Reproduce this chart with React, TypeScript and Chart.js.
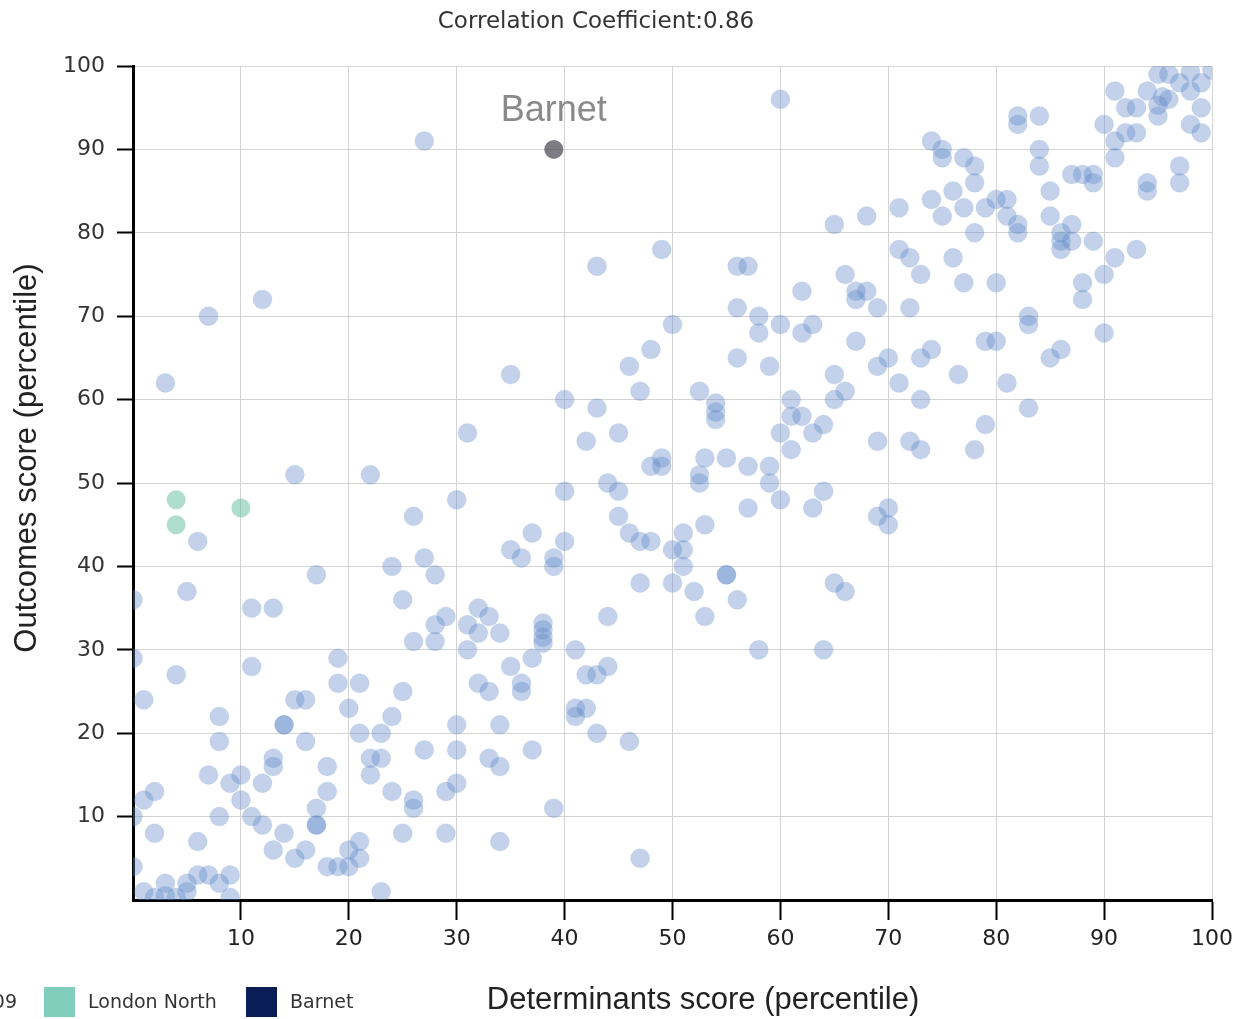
import React, { useEffect, useRef } from "react";
import { Chart, registerables } from "chart.js";

Chart.register(...registerables);

// Determinants score (x) and Outcomes score (y) for all areas
const determinantsScores = [
  91, 94, 95, 96, 97, 98, 99, 100, 98, 95.4, 95, 95, 96, 99, 92, 93, 90, 92, 93, 91, 98, 99, 91,
  82, 82, 84, 84, 84, 75, 74, 75, 77, 78, 78, 76, 77, 79, 80, 81, 81, 82, 82, 78, 85, 85,
  87, 88, 89, 89, 87, 86, 86, 86, 87, 89, 93, 91, 90, 88, 88, 94, 94, 97, 97, 90,
  76, 77, 80, 83, 83, 79, 80, 86, 85, 76.5, 81, 83, 79, 78,
  65, 68, 71, 74, 75, 71, 72, 73, 72, 56, 57, 66, 62, 67, 68, 67, 69, 56, 58, 58, 60, 62, 63,
  67, 56, 59, 69, 70, 73, 74, 71, 65, 66, 65, 73, 52.5, 54, 54, 54, 61, 61, 62, 60, 63, 64, 61,
  69, 72, 73, 53, 55, 57, 59, 59, 52.5, 52.5, 60, 64, 63, 57, 53, 69, 70, 70,
  40, 43, 31, 42, 45, 48, 49, 49, 44, 45, 40, 30, 26, 45, 46, 47, 48, 51, 50, 51, 51, 27, 28, 24,
  35, 36, 37, 40, 39, 39, 47, 50, 52, 53, 55, 55, 56, 25, 44, 32, 33, 31, 32, 34, 29, 28, 28, 26,
  38, 38, 38, 38, 31, 41, 37, 35, 42, 43, 44, 32, 33, 36, 36, 25, 65, 66, 58, 64,
  27, 60, 43, 49, 50, 35, 46, 48, 47, 7, 12, 3, 15, 22, 6,
  0, 5, 17, 11, 13, 0, 4, 11, 19, 19, 21, 1, 15, 16, 20, 24, 14, 14, 21, 23, 30, 34, 41, 41, 42,
  43, 46, 8, 8, 16, 27, 30, 33, 34, 37, 22, 23, 22, 13, 13, 18, 18, 17, 17, 17, 24, 26, 26, 29,
  30, 39, 14, 16, 15, 25, 29, 34, 47, 20, 21, 21, 18, 19, 20, 23, 7, 10, 9, 12, 10, 1, 2, 0, 8,
  11, 12, 2, 6, 13, 0, 1, 3, 3, 5, 5, 6, 7, 8, 9, 9, 2, 4,
];
const outcomesScores = [
  97, 97, 99, 99, 98, 99.3, 98, 99.5, 97, 96.3, 95.3, 94, 96, 95, 95, 95, 93, 92, 92, 91, 93, 92, 89,
  94, 93, 94, 90, 88, 90, 91, 89, 89, 88, 86, 85, 83, 83, 84, 84, 82, 81, 80, 80, 85, 82,
  87, 87, 87, 86, 81, 80, 79, 78, 79, 79, 78, 77, 75, 74, 72, 86, 85, 88, 86, 68,
  77, 74, 74, 70, 69, 67, 67, 66, 65, 63, 62, 59, 57, 54,
  81, 82, 83, 84, 82, 78, 77, 75, 71, 76, 76, 75, 73, 73, 73, 72, 71, 71, 70, 68, 69, 68, 69,
  67, 65, 64, 64, 65, 65, 66, 62, 63, 61, 60, 60, 61, 59.6, 58.5, 57.6, 60, 58, 58, 56, 56, 57, 54,
  55, 55, 54, 53, 53, 52, 52, 50, 51, 50, 48, 49, 47, 47, 45, 46, 47, 45,
  60, 59, 56, 55, 56, 52, 53, 52, 50, 49, 49, 48, 46, 46, 44, 43, 43, 44, 42, 42, 40, 41, 39, 40,
  42, 41, 44, 43, 41, 40, 38, 38, 37, 34, 39, 39, 36, 36, 34, 35, 34, 33, 32, 32, 34, 33, 31, 31,
  33.2, 32.4, 31.5, 30.8, 30, 30, 29, 28, 27, 27, 28, 26, 25, 26, 25, 25, 38, 37, 30, 30,
  91, 96, 76, 78, 69, 63, 64, 66, 61, 70, 72, 62, 51, 51, 43,
  36, 37, 39, 35, 35, 29, 27, 28, 29, 26, 26, 24, 24, 24, 23, 22, 21, 21, 20, 20, 21, 21, 22, 23, 23,
  20, 19, 22, 19, 19, 18, 18, 17, 16, 18, 17, 17, 15, 17, 16, 16, 13, 11, 9, 9, 13, 12, 11, 13,
  14, 11, 8, 6, 5, 8, 8, 7, 5, 6, 7, 5, 4, 4, 4, 1, 15, 15, 14, 14, 12, 12, 13, 10, 10,
  10, 9, 8, 7, 6, 4, 1, 2, 0.5, 2, 1, 3, 3, 2, 3, 0.3, 0.3, 0.3,
];

// London North region
const londonNorthX = [4, 4, 10];
const londonNorthY = [48, 45, 47];

// Barnet
const barnetX = [39];
const barnetY = [90];

const xTicks = [10, 20, 30, 40, 50, 60, 70, 80, 90, 100];
const yTicks = [10, 20, 30, 40, 50, 60, 70, 80, 90, 100];

const titleText = "Correlation Coefficient:0.86";
const xTitle = "Determinants score (percentile)";
const yTitle = "Outcomes score (percentile)";
const highlightLabel = "Barnet";
const legendItems = [
  { label: "2008-09", color: "" },
  { label: "London North", color: "#80cdbb" },
  { label: "Barnet", color: "#0b1d57" },
];

function toPoints(xs: number[], ys: number[]) {
  return xs.map((x, i) => ({ x, y: ys[i] }));
}

export default function App() {
  const canvasRef = useRef<HTMLCanvasElement | null>(null);

  useEffect(() => {
    document.body.style.margin = "0";
    const canvas = canvasRef.current;
    if (!canvas) return;

    const textPlugin = {
      id: "textPlugin",
      afterDraw(chart: any) {
        const ctx = chart.ctx as CanvasRenderingContext2D;
        const xs = chart.scales.x;
        const ys = chart.scales.y;
        ctx.save();
        // title
        ctx.fillStyle = "#333";
        ctx.font = '23px "DejaVu Sans"';
        ctx.textAlign = "center";
        ctx.textBaseline = "middle";
        ctx.fillText(titleText, 596, 22);

        // Barnet label above the point
        ctx.fillStyle = "#8a8a8a";
        ctx.font = '36px "Liberation Sans"';
        ctx.textAlign = "center";
        ctx.textBaseline = "middle";
        ctx.fillText(highlightLabel, xs.getPixelForValue(barnetX[0]), ys.getPixelForValue(barnetY[0]) - 38);

        // axis titles
        ctx.fillStyle = "#222";
        ctx.font = '31px "Liberation Sans"';
        ctx.fillText(xTitle, 703, 1000);
        ctx.save();
        ctx.translate(27, 458);
        ctx.rotate(-Math.PI / 2);
        ctx.fillText(yTitle, 0, 0);
        ctx.restore();

        // legend
        ctx.font = '19px "DejaVu Sans"';
        ctx.fillStyle = "#333";
        ctx.textBaseline = "middle";
        ctx.textAlign = "right";
        ctx.fillText(legendItems[0].label, 17, 1003);
        ctx.textAlign = "left";
        const swX = [44, 246];
        const txX = [88, 290];
        for (let i = 1; i < legendItems.length; i++) {
          ctx.fillStyle = legendItems[i].color;
          ctx.fillRect(swX[i - 1], 987, 31, 30);
          ctx.fillStyle = "#333";
          ctx.fillText(legendItems[i].label, txX[i - 1], 1003);
        }
        ctx.restore();
      },
    };

    const removeZero = (scale: any) => {
      scale.ticks = scale.ticks.filter((t: any) => t.value !== 0);
    };

    const chart = new Chart(canvas, {
      type: "scatter",
      data: {
        datasets: [
          {
            label: "All",
            data: toPoints(determinantsScores, outcomesScores),
            backgroundColor: "rgba(98,138,200,0.38)",
            borderColor: "rgba(98,138,200,0.12)",
            borderWidth: 1,
            pointRadius: 9.5,
          },
          {
            label: "London North",
            data: toPoints(londonNorthX, londonNorthY),
            backgroundColor: "rgba(95,190,158,0.5)",
            borderWidth: 0,
            pointRadius: 9.5,
          },
          {
            label: "Barnet",
            data: toPoints(barnetX, barnetY),
            backgroundColor: "rgba(80,80,88,0.75)",
            borderWidth: 0,
            pointRadius: 9.5,
          },
        ],
      },
      options: {
        responsive: false,
        animation: false,
        events: [],
        layout: { padding: { top: 66, right: 26, left: 0, bottom: 0 } },
        plugins: {
          legend: { display: false },
          title: { display: false },
          tooltip: { enabled: false },
        },
        scales: {
          x: {
            type: "linear",
            min: 0,
            max: 100,
            afterFit: (s: any) => {
              s.height = 119;
            },
            afterBuildTicks: removeZero,
            ticks: {
              stepSize: 10,
              autoSkip: false,
              maxRotation: 0,
              padding: 6,
              color: "#222",
              font: { family: "DejaVu Sans", size: 22 },
              callback: (v: any) => (xTicks.includes(Number(v)) ? String(v) : ""),
            },
            grid: {
              color: "#d3d3d3",
              lineWidth: 1,
              tickColor: "#000",
              tickLength: 20,
              tickWidth: 2,
            },
            border: { color: "#000", width: 3 },
          },
          y: {
            type: "linear",
            min: 0,
            max: 100,
            afterFit: (s: any) => {
              s.width = 133;
            },
            afterBuildTicks: removeZero,
            ticks: {
              stepSize: 10,
              autoSkip: false,
              padding: 12,
              color: "#333",
              font: { family: "DejaVu Sans", size: 22 },
              callback: (v: any) => (yTicks.includes(Number(v)) ? String(v) : ""),
            },
            grid: {
              color: "#d3d3d3",
              lineWidth: 1,
              tickColor: "#000",
              tickLength: 16,
              tickWidth: 2,
            },
            border: { color: "#000", width: 3 },
          },
        },
      },
      plugins: [textPlugin],
    });

    return () => chart.destroy();
  }, []);

  return (
    <div style={{ width: 1239, height: 1019, position: "relative", background: "#fff" }}>
      <canvas ref={canvasRef} width={1239} height={1019} style={{ display: "block" }} />
    </div>
  );
}
